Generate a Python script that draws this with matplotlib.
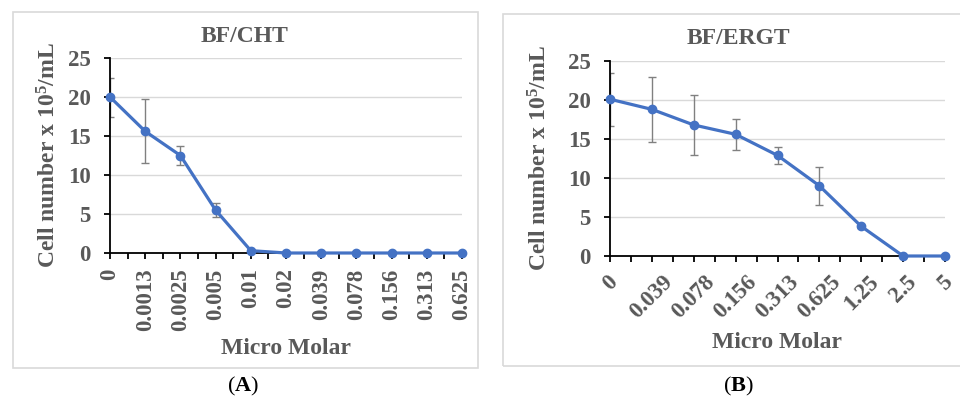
import numpy as np
import matplotlib
matplotlib.use('Agg')
import matplotlib.pyplot as plt
from matplotlib.patches import Rectangle

plt.rcParams['font.family'] = ['Liberation Serif', 'DejaVu Serif']
plt.rcParams['font.weight'] = 'bold'
plt.rcParams['mathtext.fontset'] = 'custom'
plt.rcParams['mathtext.rm'] = 'Liberation Serif:bold'
plt.rcParams['mathtext.it'] = 'Liberation Serif:bold'
plt.rcParams['mathtext.bf'] = 'Liberation Serif:bold'

# panel A: BF/CHT
cht_doses = ['0', '0.0013', '0.0025', '0.005', '0.01', '0.02', '0.039',
             '0.078', '0.156', '0.313', '0.625']
cht_cells = [20.0, 15.6, 12.5, 5.5, 0.3, 0, 0, 0, 0, 0, 0]
cht_err = [2.5, 4.1, 1.2, 0.9, 0.1, 0, 0, 0, 0, 0, 0]

# panel B: BF/ERGT
ergt_doses = ['0', '0.039', '0.078', '0.156', '0.313', '0.625', '1.25',
              '2.5', '5']
ergt_cells = [20.1, 18.8, 16.8, 15.6, 12.9, 9.0, 3.8, 0, 0]
ergt_err = [3.4, 4.2, 3.9, 2.0, 1.1, 2.4, 0.2, 0, 0]

BLUE = '#4472C4'
TXT = '#595959'
W, H = 960, 398

fig = plt.figure(figsize=(9.6, 3.98), dpi=100)


def px_rect(l, t, r, b):
    return [l / W, 1 - b / H, (r - l) / W, (b - t) / H]


def panel(rect, frame, doses, cells, err, title, title_xy, rot, letter, letter_xy, ypad):
    fl, ft, fr, fb = frame
    fig.patches.append(Rectangle((fl / W, 1 - fb / H), (fr - fl) / W, (fb - ft) / H,
                                 transform=fig.transFigure, fill=False,
                                 edgecolor='#d9d9d9', lw=1.2))
    ax = fig.add_axes(px_rect(*rect))
    x = np.arange(len(doses))
    ax.errorbar(x, cells, yerr=err, fmt='none', ecolor='#808080', elinewidth=1,
                capsize=3, capthick=1, zorder=2)
    ax.plot(x, cells, color=BLUE, lw=2.3, marker='o', ms=6, clip_on=False, zorder=3)
    ax.set_xlim(0, len(doses) - 1)
    ax.set_ylim(0, 25)
    ax.set_yticks([0, 5, 10, 15, 20, 25])
    ax.set_xticks(x)
    ax.set_xticks(x[:-1] + 0.5, minor=True)
    ax.yaxis.grid(True, color='#d9d9d9', lw=1)
    ax.set_axisbelow(True)
    for s in ['top', 'right']:
        ax.spines[s].set_visible(False)
    ax.spines['left'].set_color('black')
    ax.spines['bottom'].set_color('black')
    ax.spines['left'].set_linewidth(1.3)
    ax.spines['bottom'].set_linewidth(1.3)
    ax.tick_params(axis='both', which='both', direction='out', length=4, width=1.3,
                   colors='black', labelcolor=TXT, labelsize=16.5)
    ax.tick_params(axis='y', pad=10)
    if rot == 90:
        ax.tick_params(axis='x', pad=7)
        ax.set_xticklabels(doses, rotation=90, va='top', ha='center')
        xpad = 5
    else:
        ax.tick_params(axis='x', pad=7)
        ax.set_xticklabels(doses, rotation=45, ha='center', va='top')
        xpad = 7
    ax.set_xlabel('Micro Molar', fontsize=17, color=TXT, fontweight='bold', labelpad=xpad)
    ax.set_ylabel('Cell number x 10$^5$/mL', fontsize=17, color=TXT,
                  fontweight='bold', labelpad=ypad)
    fig.text(title_xy[0] / W, 1 - title_xy[1] / H, title, fontsize=17, color=TXT,
             fontweight='bold', ha='center', va='center')
    fig.text(letter_xy[0] / W, 1 - letter_xy[1] / H, '(' + r'$\mathbf{' + letter + '}$' + ')',
             fontsize=16, color='black', fontweight='normal', ha='center', va='center')
    return ax


panel((110, 58, 462, 253), (13, 12, 478, 368), cht_doses, cht_cells, cht_err,
      'BF/CHT', (245, 36), 90, 'A', (243, 386), 5)
panel((610, 61, 945, 256), (503, 14, 975, 366), ergt_doses, ergt_cells, ergt_err,
      'BF/ERGT', (738, 38), 45, 'B', (738, 386), 12)

fig.savefig('out.png', dpi=100, facecolor='white')
